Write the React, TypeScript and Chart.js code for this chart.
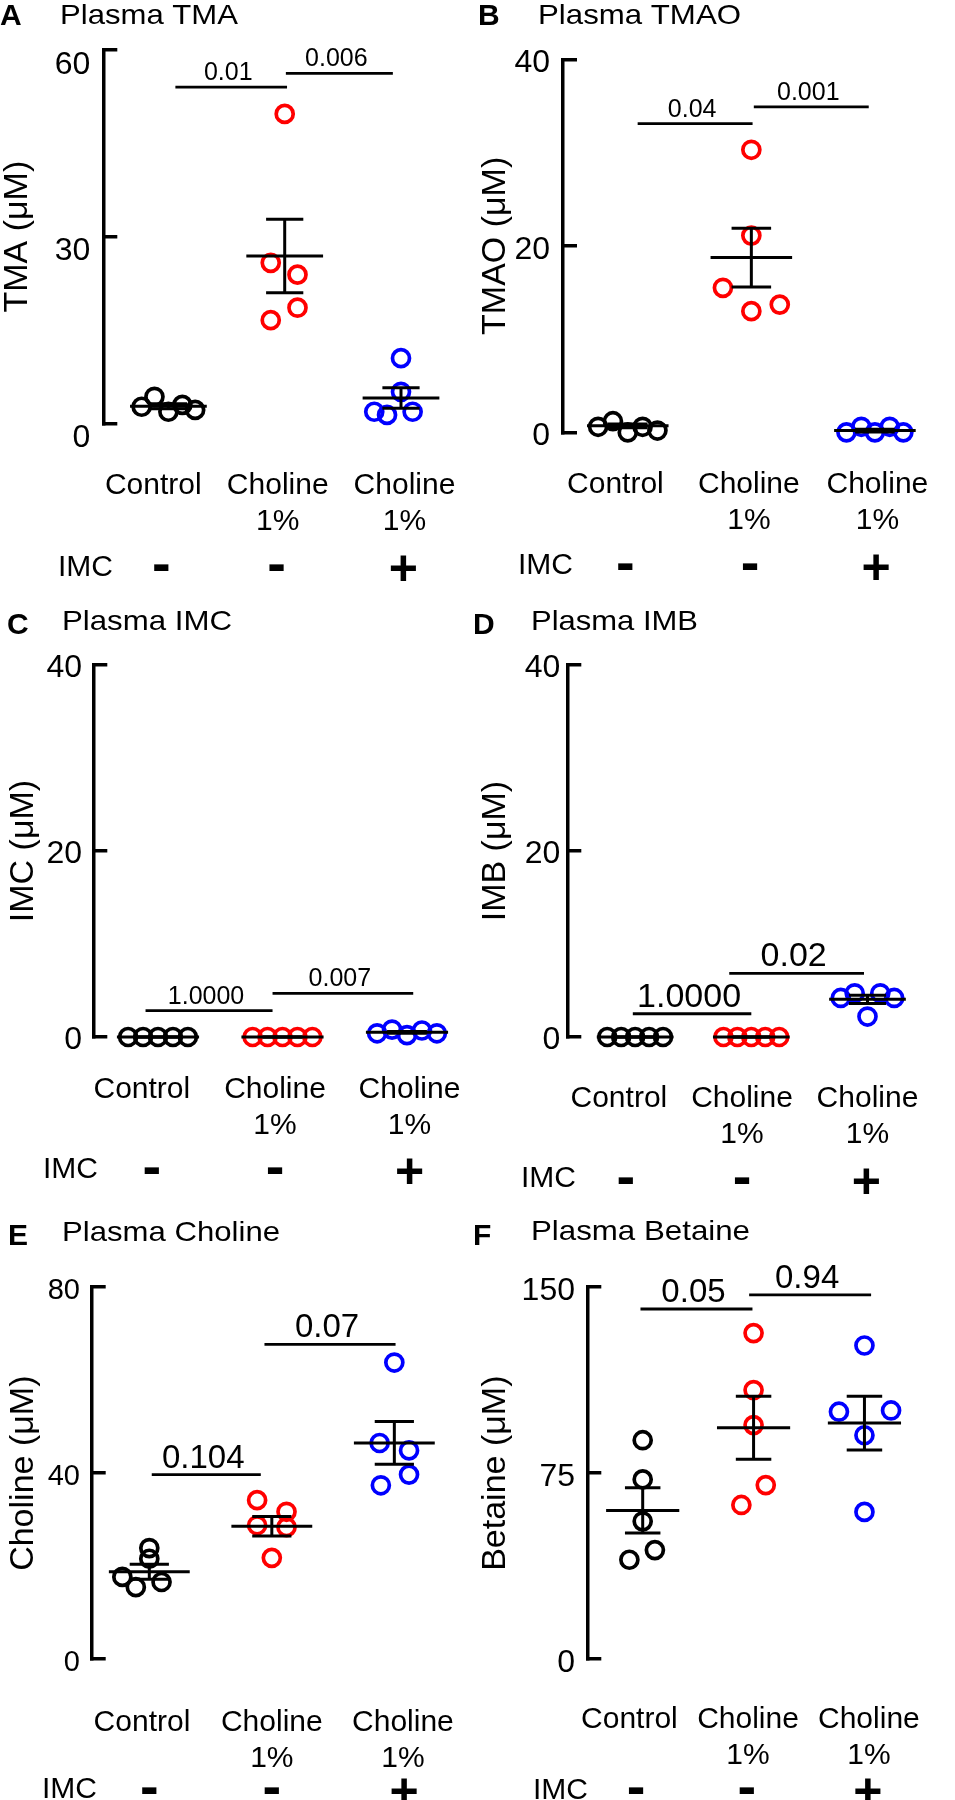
import React, { useEffect, useRef } from "react";
import { Chart, registerables } from "chart.js";

Chart.register(...registerables);

const FONT = "'Liberation Sans', Arial, Helvetica, sans-serif";

/* ---------------- shared categories ---------------- */
const groupLabels: (string | string[])[] = ["Control", ["Choline", "1%"], ["Choline", "1%"]];
const imcSigns = ["-", "-", "+"];
const groupColors = ["#000000", "#ff0000", "#0000ff"];

/* ---------------- A: Plasma TMA ---------------- */
const tmaControl = [2.7, 4.3, 1.9, 3.0, 2.2];
const tmaCholine = [49.7, 25.8, 23.9, 18.6, 16.6];
const tmaCholineImc = [10.5, 5.1, 1.9, 1.4, 1.9];
const tmaMean = [2.8, 26.9, 4.1];
const tmaSem = [0.4, 5.9, 1.65];
const tmaTicks = [0, 30, 60];
const tmaP = ["0.01", "0.006"];
const tmaPHeight = [54.0, 56.2];

/* ---------------- B: Plasma TMAO ---------------- */
const tmaoControl = [0.6, 1.2, 0, 0.6, 0.2];
const tmaoCholine = [30.3, 21.1, 15.5, 13.7, 13.0];
const tmaoCholineImc = [0, 0.6, 0, 0.6, 0];
const tmaoMean = [0.7, 18.75, 0.2];
const tmaoSem = [0.2, 3.15, 0.15];
const tmaoTicks = [0, 20, 40];
const tmaoP = ["0.04", "0.001"];
const tmaoPHeight = [33.1, 34.9];

/* ---------------- C: Plasma IMC ---------------- */
const imcControl = [0, 0, 0, 0, 0];
const imcCholine = [0, 0, 0, 0, 0];
const imcCholineImc = [0.4, 0.8, 0.2, 0.7, 0.4];
const imcMean = [0, 0, 0.5];
const imcSem = [0, 0, 0.1];
const imcTicks = [0, 20, 40];
const imcP = ["1.0000", "0.007"];
const imcPHeight = [2.84, 4.7];

/* ---------------- D: Plasma IMB ---------------- */
const imbControl = [0, 0, 0, 0, 0];
const imbCholine = [0, 0, 0, 0, 0];
const imbCholineImc = [4.2, 4.7, 4.7, 4.2, 2.2];
const imbMean = [0, 0, 4.05];
const imbSem = [0, 0, 0.45];
const imbTicks = [0, 20, 40];
const imbP = ["1.0000", "0.02"];
const imbPHeight = [2.5, 6.85];

/* ---------------- E: Plasma Choline ---------------- */
const cholControl = [23.9, 21.6, 17.7, 15.5, 16.6];
const cholCholine = [34.2, 31.7, 28.8, 28.4, 21.8];
const cholCholineImc = [63.8, 46.5, 44.9, 39.7, 37.4];
const cholMean = [18.8, 28.6, 46.5];
const cholSem = [1.6, 2.1, 4.6];
const cholTicks = [0, 40, 80];
const cholP = ["0.104", "0.07"];
const cholPHeight = [39.7, 67.7];

/* ---------------- F: Plasma Betaine ---------------- */
const betControl = [88.3, 72.5, 55.6, 44.0, 40.1];
const betCholine = [131.5, 108.5, 94.4, 70.2, 62.2];
const betCholineImc = [126.5, 99.8, 100.3, 90.3, 59.4];
const betMean = [60.0, 93.3, 95.2];
const betSem = [9.1, 12.7, 10.8];
const betTicks = [0, 75, 150];
const betP = ["0.05", "0.94"];
const betPHeight = [141.2, 146.9];

/* ---------------- layout (page px / category units) ---------------- */
const J5 = [-0.24, -0.12, 0, 0.12, 0.24];

const panels: any[] = [
  {
    letter: "A", title: "Plasma TMA", yTitle: "TMA (\u03bcM)",
    series: [tmaControl, tmaCholine, tmaCholineImc], means: tmaMean, sems: tmaSem,
    ticks: tmaTicks, pValues: tmaP, pHeights: tmaPHeight,
    L: {
      box: [0, 0, 492, 600], axisX: 103.3, yTop: 49.7, yBottom: 423.6, g0: 173, step: 124.5,
      jitter: [[-0.23, -0.12, 0, 0.12, 0.23], [0, -0.12, 0.11, 0.11, -0.12], [0, 0, -0.23, -0.12, 0.1]],
      labelPos: [-0.13, 0.94, 2.03], signPos: [-0.06, 0.93, 2.02], brackets: [[0.06, 1.02], [1.01, 1.93]],
      tickFont: 32, labelOffset: 15, tickGap: 13, xPad: 36, yTitleX: 18, pFont: 25,
      letterX: 0, letterBase: 25, titleX: 60, titleBase: 23.7, titleW: 178,
      imcX: 58, imcBase: 576, signY: 567,
    },
  },
  {
    letter: "B", title: "Plasma TMAO", yTitle: "TMAO (\u03bcM)",
    series: [tmaoControl, tmaoCholine, tmaoCholineImc], means: tmaoMean, sems: tmaoSem,
    ticks: tmaoTicks, pValues: tmaoP, pHeights: tmaoPHeight,
    L: {
      box: [466, 0, 489, 600], axisX: 563, yTop: 59.3, yBottom: 432.4, g0: 628, step: 124,
      jitter: [J5, [0, 0, -0.23, 0.23, 0], [-0.23, -0.11, 0, 0.12, 0.23]],
      labelPos: [-0.1, 0.98, 2.02], signPos: [-0.02, 0.99, 2.01], brackets: [[0.08, 1.01], [1.02, 1.95]],
      tickFont: 32, labelOffset: 4, tickGap: 13, xPad: 26, yTitleX: 495.5, pFont: 25,
      letterX: 478, letterBase: 25, titleX: 538, titleBase: 23.7, titleW: 203,
      imcX: 518, imcBase: 574, signY: 566,
    },
  },
  {
    letter: "C", title: "Plasma IMC", yTitle: "IMC (\u03bcM)",
    series: [imcControl, imcCholine, imcCholineImc], means: imcMean, sems: imcSem,
    ticks: imcTicks, pValues: imcP, pHeights: imcPHeight,
    L: {
      box: [0, 600, 492, 600], axisX: 93.3, yTop: 665.1, yBottom: 1037, g0: 158, step: 124.5,
      jitter: [J5, J5, J5],
      labelPos: [-0.13, 0.94, 2.02], signPos: [-0.05, 0.94, 2.02], brackets: [[-0.1, 0.92], [0.92, 2.05]],
      tickFont: 32, labelOffset: 3, tickGap: 11.3, xPad: 26.3, yTitleX: 24, pFont: 25,
      letterX: 7, letterBase: 634, titleX: 62, titleBase: 629.8, titleW: 170,
      imcX: 43, imcBase: 1177.8, signY: 1170,
    },
  },
  {
    letter: "D", title: "Plasma IMB", yTitle: "IMB (\u03bcM)",
    series: [imbControl, imbCholine, imbCholineImc], means: imbMean, sems: imbSem,
    ticks: imbTicks, pValues: imbP, pHeights: imbPHeight,
    L: {
      box: [466, 600, 489, 600], axisX: 567.3, yTop: 665.1, yBottom: 1037, g0: 640, step: 124.5,
      jitter: [J5, J5, [-0.23, -0.11, 0.11, 0.23, 0]],
      labelPos: [-0.14, 0.92, 2.0], signPos: [-0.08, 0.92, 1.99], brackets: [[-0.02, 1.0], [0.81, 1.97]],
      tickFont: 32, labelOffset: 3, tickGap: 7, xPad: 36, yTitleX: 495.5, pFont: 34,
      letterX: 473, letterBase: 634, titleX: 531, titleBase: 629.8, titleW: 167,
      imcX: 521, imcBase: 1187.4, signY: 1180,
    },
  },
  {
    letter: "E", title: "Plasma Choline", yTitle: "Choline (\u03bcM)",
    series: [cholControl, cholCholine, cholCholineImc], means: cholMean, sems: cholSem,
    ticks: cholTicks, pValues: cholP, pHeights: cholPHeight,
    L: {
      box: [0, 1200, 492, 600], axisX: 91.7, yTop: 1287.2, yBottom: 1659.2, g0: 150, step: 124,
      jitter: [[0, 0, -0.22, -0.11, 0.1], [-0.12, 0.12, -0.12, 0.12, 0], [0, -0.12, 0.12, 0.12, -0.11]],
      labelPos: [-0.06, 1.0, 2.07], signPos: [0, 1.0, 2.08], brackets: [[0.02, 0.91], [0.94, 2.01]],
      tickFont: 29, labelOffset: 4, tickGap: 11.7, xPad: 37.4, yTitleX: 24, pFont: 33,
      letterX: 8, letterBase: 1245, titleX: 62, titleBase: 1240.7, titleW: 218,
      imcX: 42, imcBase: 1798, signY: 1790,
    },
  },
  {
    letter: "F", title: "Plasma Betaine", yTitle: "Betaine (\u03bcM)",
    series: [betControl, betCholine, betCholineImc], means: betMean, sems: betSem,
    ticks: betTicks, pValues: betP, pHeights: betPHeight,
    L: {
      box: [466, 1200, 489, 600], axisX: 587.3, yTop: 1287.2, yBottom: 1659.2, g0: 649, step: 123.5,
      jitter: [[0, 0, 0, 0.11, -0.12], [0, 0, 0, 0.11, -0.11], [0, -0.23, 0.24, 0, 0]],
      labelPos: [-0.12, 0.95, 2.04], signPos: [-0.06, 0.94, 2.03], brackets: [[-0.02, 0.99], [0.96, 2.06]],
      tickFont: 32, labelOffset: 4, tickGap: 12.3, xPad: 34.7, yTitleX: 495.5, pFont: 33,
      letterX: 473, letterBase: 1245, titleX: 531, titleBase: 1240.2, titleW: 219,
      imcX: 533, imcBase: 1799, signY: 1790,
    },
  },
];

function line(ctx: any, x1: number, y1: number, x2: number, y2: number) {
  ctx.beginPath();
  ctx.moveTo(x1, y1);
  ctx.lineTo(x2, y2);
  ctx.stroke();
}

function makeDecor(spec: any) {
  const L = spec.L;
  const [bl, bt] = L.box;
  return {
    id: "panelDecor" + spec.letter,
    afterDatasetsDraw(chart: any) {
      const ctx = chart.ctx;
      const xs = chart.scales.x;
      const ys = chart.scales.y;
      const unit = xs.getPixelForValue(1) - xs.getPixelForValue(0);
      ctx.save();
      ctx.strokeStyle = "#000";
      ctx.lineCap = "butt";
      ctx.lineWidth = 3;
      // mean +/- SEM
      spec.means.forEach((m: number, g: number) => {
        const cx = xs.getPixelForValue(g);
        const ym = ys.getPixelForValue(m);
        const yt = ys.getPixelForValue(m + spec.sems[g]);
        const yb = ys.getPixelForValue(Math.max(0, m - spec.sems[g]));
        line(ctx, cx - 0.33 * unit, ym, cx + 0.33 * unit, ym);
        line(ctx, cx, yt, cx, yb);
        line(ctx, cx - 0.16 * unit, yt, cx + 0.16 * unit, yt);
        line(ctx, cx - 0.16 * unit, yb, cx + 0.16 * unit, yb);
      });
      // significance bars
      ctx.lineWidth = 2.8;
      ctx.fillStyle = "#000";
      ctx.font = `${L.pFont}px ${FONT}`;
      ctx.textAlign = "center";
      ctx.textBaseline = "alphabetic";
      spec.pValues.forEach((p: string, k: number) => {
        const [a, b] = L.brackets[k];
        const x1 = xs.getPixelForValue(a);
        const x2 = xs.getPixelForValue(b);
        const y = ys.getPixelForValue(spec.pHeights[k]);
        line(ctx, x1, y, x2, y);
        ctx.fillText(p, (x1 + x2) / 2 - 3, y - 7);
      });
      ctx.restore();
    },
    afterDraw(chart: any) {
      const ctx = chart.ctx;
      const xs = chart.scales.x;
      ctx.save();
      ctx.fillStyle = "#000";
      ctx.textBaseline = "alphabetic";
      ctx.textAlign = "left";
      // panel letter
      ctx.font = `bold 30px ${FONT}`;
      ctx.fillText(spec.letter, L.letterX - bl, L.letterBase - bt);
      // panel title (stretched to the reference width)
      ctx.font = `28px ${FONT}`;
      const w = ctx.measureText(spec.title).width;
      ctx.save();
      ctx.translate(L.titleX - bl, L.titleBase - bt);
      ctx.scale(L.titleW / w, 1);
      ctx.fillText(spec.title, 0, 0);
      ctx.restore();
      // IMC row
      ctx.font = `30px ${FONT}`;
      ctx.fillText("IMC", L.imcX - bl, L.imcBase - bt);
      ctx.textAlign = "center";
      imcSigns.forEach((s: string, g: number) => {
        const x = xs.getPixelForValue(L.signPos[g]);
        if (s === "+") {
          ctx.font = `bold 50px ${FONT}`;
          ctx.fillText(s, x, L.signY - bt + 17.5);
        } else {
          ctx.font = `bold 56px ${FONT}`;
          ctx.fillText(s, x, L.signY - bt + 14.5);
        }
      });
      ctx.restore();
    },
  };
}

function buildConfig(spec: any) {
  const L = spec.L;
  const [bl, bt, bw, bh] = L.box;
  const xMin = -(L.g0 - L.axisX) / L.step;
  const chartRight = bl + bw - 4;
  const xMax = xMin + (chartRight - L.axisX) / L.step;
  const datasets = spec.series.map((vals: number[], g: number) => ({
    label: Array.isArray(groupLabels[g]) ? (groupLabels[g] as string[]).join(" ") : groupLabels[g],
    data: vals.map((v: number, i: number) => ({ x: g + L.jitter[g][i], y: v })),
    pointRadius: 8.5,
    pointHoverRadius: 8.5,
    pointBorderWidth: 3.7,
    pointBorderColor: groupColors[g],
    pointBackgroundColor: "rgba(0,0,0,0)",
    borderColor: groupColors[g],
    backgroundColor: "rgba(0,0,0,0)",
    showLine: false,
    clip: false,
  }));
  const yMax = spec.ticks[spec.ticks.length - 1];
  return {
    type: "scatter",
    data: { datasets },
    options: {
      animation: false,
      responsive: false,
      maintainAspectRatio: false,
      devicePixelRatio: 1,
      events: [],
      layout: {
        autoPadding: false,
        padding: { left: 0, top: L.yTop - bt, right: bl + bw - chartRight, bottom: 0 },
      },
      plugins: { legend: { display: false }, tooltip: { enabled: false }, title: { display: false } },
      scales: {
        x: {
          type: "linear",
          min: xMin,
          max: xMax,
          grid: { display: false },
          border: { display: false },
          afterBuildTicks: (s: any) => {
            s.ticks = L.labelPos.map((v: number) => ({ value: v }));
          },
          afterFit: (s: any) => {
            s.height = bt + bh - L.yBottom;
          },
          ticks: {
            autoSkip: false,
            maxRotation: 0,
            minRotation: 0,
            padding: L.xPad,
            color: "#000",
            font: { family: FONT, size: 30, lineHeight: 1.2 },
            callback: (_v: any, i: number) => groupLabels[i],
          },
        },
        y: {
          type: "linear",
          min: 0,
          max: yMax,
          afterBuildTicks: (s: any) => {
            s.ticks = spec.ticks.map((v: number) => ({ value: v }));
          },
          afterFit: (s: any) => {
            s.width = L.axisX - bl;
          },
          grid: {
            display: true,
            drawOnChartArea: false,
            drawTicks: true,
            tickLength: -14,
            lineWidth: 3.5,
            tickWidth: 3.5,
            color: "#000",
            tickColor: "#000",
          },
          border: { display: true, width: 3.5, color: "#000" },
          ticks: {
            padding: 14 + L.tickGap,
            labelOffset: L.labelOffset,
            color: "#000",
            font: { family: FONT, size: L.tickFont },
            callback: (v: any) => String(v),
          },
          title: {
            display: true,
            text: spec.yTitle,
            color: "#000",
            font: { family: FONT, size: 34, lineHeight: 1 },
            padding: { top: L.yTitleX - bl - 17, bottom: 0 },
          },
        },
      },
    },
    plugins: [makeDecor(spec)],
  };
}

function Panel({ spec }: { spec: any }) {
  const ref = useRef<HTMLCanvasElement | null>(null);
  useEffect(() => {
    if (!ref.current) return;
    const chart = new Chart(ref.current, buildConfig(spec) as any);
    return () => chart.destroy();
  }, [spec]);
  const [bl, bt, bw, bh] = spec.L.box;
  return (
    <canvas
      ref={ref}
      width={bw}
      height={bh}
      style={{ position: "absolute", left: bl, top: bt, width: bw, height: bh }}
    />
  );
}

export default function App() {
  return (
    <div
      style={{
        position: "absolute",
        left: 0,
        top: 0,
        width: 955,
        height: 1800,
        background: "#ffffff",
        overflow: "hidden",
      }}
    >
      {panels.map((p) => (
        <Panel key={p.letter} spec={p} />
      ))}
    </div>
  );
}
